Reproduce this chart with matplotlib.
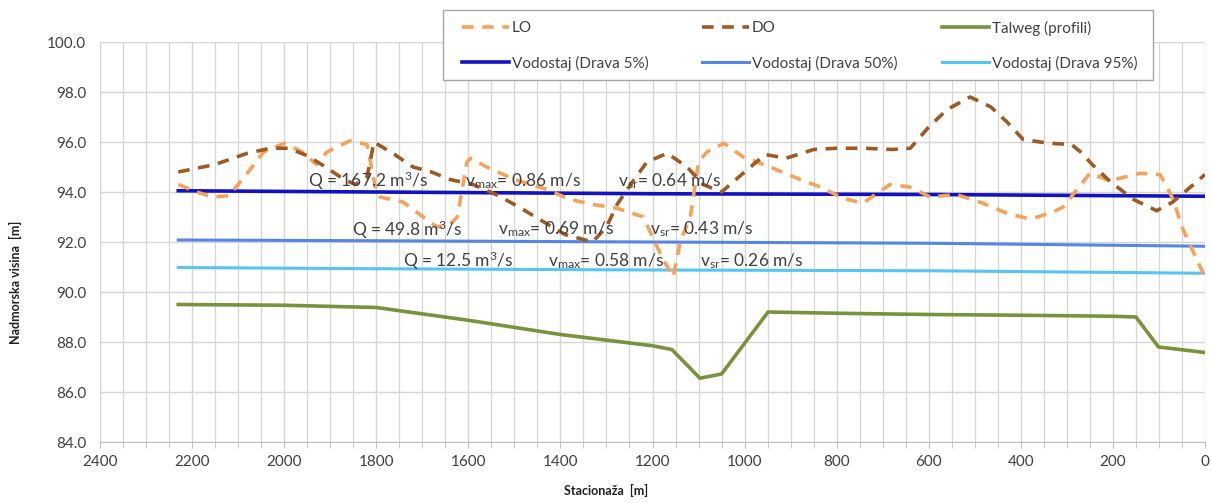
import matplotlib
matplotlib.use("Agg")
import matplotlib.pyplot as plt
from matplotlib.patches import Rectangle
from matplotlib.ticker import MultipleLocator, FormatStrFormatter

plt.rcParams['font.family'] = ['Lato', 'DejaVu Sans']
plt.rcParams['mathtext.fontset'] = 'custom'
plt.rcParams['mathtext.rm'] = 'Lato'
plt.rcParams['mathtext.it'] = 'Lato'

# Left bank (LO) crest
lo_st = [2230, 2190, 2155, 2120, 2080, 2045, 2000, 1960, 1930, 1907, 1857, 1820,
         1800, 1792, 1742, 1698, 1668, 1640, 1624, 1603, 1595, 1560, 1500, 1429,
         1379, 1329, 1277, 1220, 1177, 1155, 1140, 1118, 1100, 1082, 1045, 1003,
         988, 938, 886, 836, 786, 743, 712, 684, 641, 597, 540, 482, 430, 387,
         373, 330, 308, 278, 250, 206, 141, 98, 87, 69, 50, 28, 0]
lo_h = [94.3, 94.0, 93.8, 93.85, 94.75, 95.6, 95.95, 95.6, 95.1, 95.6, 96.05, 95.9,
        94.0, 93.8, 93.6, 93.0, 92.6, 92.7, 93.0, 95.2, 95.35, 95.0, 94.5, 94.1,
        93.7, 93.5, 93.35, 93.0, 91.3, 90.6, 92.0, 93.0, 95.2, 95.6, 95.95, 95.4,
        95.3, 94.95, 94.55, 94.2, 93.75, 93.55, 93.95, 94.3, 94.2, 93.8, 93.9, 93.55, 93.15, 92.95,
        92.95, 93.2, 93.4, 94.1, 94.75, 94.45, 94.75, 94.7, 94.35, 93.7, 92.6, 91.7, 90.6]

# Right bank (DO) crest
do_st = [2230, 2150, 2080, 2030, 1990, 1950, 1910, 1870, 1845, 1820, 1805, 1760,
         1720, 1680, 1640, 1590, 1540, 1490, 1445, 1390, 1330, 1300, 1277, 1240,
         1212, 1168, 1125, 1090, 1050, 1000, 955, 910, 850, 800, 740, 680, 640,
         600, 560, 510, 465, 430, 395, 340, 290, 270, 245, 205, 155, 105, 70, 25, 0]
do_h = [94.8, 95.1, 95.55, 95.75, 95.75, 95.45, 95.0, 94.5, 94.3, 94.6, 96.0, 95.5,
        95.0, 94.8, 94.5, 94.3, 93.9, 93.4, 92.9, 92.3, 92.0, 92.6, 93.5, 94.5,
        95.2, 95.55, 95.0, 94.3, 94.0, 94.8, 95.5, 95.35, 95.7, 95.75, 95.75, 95.7, 95.75,
        96.6, 97.3, 97.8, 97.4, 96.8, 96.1, 95.95, 95.9, 95.6, 95.1, 94.4, 93.7, 93.25, 93.6, 94.3, 94.7]

# Thalweg along the surveyed profiles
tw_st = [2230, 2000, 1800, 1600, 1400, 1200, 1158, 1097, 1050, 949, 800, 600, 400, 200, 150, 101, 0]
tw_h = [89.5, 89.47, 89.38, 88.87, 88.3, 87.85, 87.7, 86.55, 86.72, 89.2, 89.15, 89.1, 89.07, 89.03, 89.0, 87.8, 87.58]

# Water levels for the Drava discharges
wl_st = [2230, 1800, 1200, 600, 0]
wl_5 = [94.05, 94.0, 93.93, 93.9, 93.83]
wl_50 = [92.08, 92.05, 92.0, 91.95, 91.83]
wl_95 = [90.98, 90.93, 90.88, 90.85, 90.75]

# Flow annotations: station, elevation, text
notes_st = [1948, 1607, 1275, 1853, 1536, 1205, 1742, 1427, 1097]
notes_h = [94.45, 94.45, 94.45, 92.5, 92.5, 92.5, 91.25, 91.25, 91.25]
notes_txt = [r'Q = 167.2 m$^3$/s', r'v$_{max}$= 0.86 m/s', r'v$_{sr}$= 0.64 m/s',
             r'Q = 49.8 m$^3$/s', r'v$_{max}$= 0.69 m/s', r'v$_{sr}$= 0.43 m/s',
             r'Q = 12.5 m$^3$/s', r'v$_{max}$= 0.58 m/s', r'v$_{sr}$= 0.26 m/s']

W, H = 1211, 503
fig = plt.figure(figsize=(W / 100, H / 100), dpi=100)
ax = fig.add_axes([100 / W, 1 - 442 / H, 1105 / W, 400 / H])

dash = (0, (3.2, 2.4))
l_lo, = ax.plot(lo_st, lo_h, color='#F5A25A', lw=2.6, ls=dash, dash_capstyle='butt', label='LO', zorder=4)
l_do, = ax.plot(do_st, do_h, color='#9E5A22', lw=2.6, ls=dash, dash_capstyle='butt', label='DO', zorder=4)
l_tw, = ax.plot(tw_st, tw_h, color='#77933C', lw=2.6, label='Talweg (profili)', zorder=3)
l_5, = ax.plot(wl_st, wl_5, color='#1212C0', lw=2.6, label='Vodostaj (Drava 5%)', zorder=3)
l_50, = ax.plot(wl_st, wl_50, color='#5585E5', lw=2.2, label='Vodostaj (Drava 50%)', zorder=3)
l_95, = ax.plot(wl_st, wl_95, color='#56C5F5', lw=2.2, label='Vodostaj (Drava 95%)', zorder=3)

for s, h, t in zip(notes_st, notes_h, notes_txt):
    ax.text(s, h, t, fontsize=12.5, color='#404040', ha='left', va='center', zorder=5)

ax.set_xlim(2400, 0)
ax.set_ylim(84, 100)
ax.xaxis.set_major_locator(MultipleLocator(200))
ax.xaxis.set_minor_locator(MultipleLocator(50))
ax.yaxis.set_major_locator(MultipleLocator(2))
ax.yaxis.set_major_formatter(FormatStrFormatter('%.1f'))
ax.grid(which='major', color='#D6D6D6', lw=1.0, zorder=0)
ax.grid(which='minor', axis='x', color='#D6D6D6', lw=0.9, zorder=0)
ax.set_axisbelow(True)
for sp in ['top', 'right', 'left']:
    ax.spines[sp].set_visible(False)
ax.spines['bottom'].set_color('#BFBFBF')
ax.tick_params(axis='x', which='both', direction='out', length=4, color='#BFBFBF',
               labelsize=11, labelcolor='#404040', pad=5)
ax.tick_params(axis='y', which='both', length=0, labelsize=11, labelcolor='#404040', pad=10)

ax.set_xlabel('Stacionaža  [m]', fontsize=9, fontweight='bold', color='#202020')
ax.xaxis.set_label_coords((606 - 100) / 1105, (442 - 484) / 400)
ax.set_ylabel('Nadmorska visina  [m]', fontsize=9, fontweight='bold', color='#202020')
ax.yaxis.set_label_coords((22 - 100) / 1105, (442 - 282) / 400)

# Legend: frame plus one entry per slot, three columns in two rows
fig.patches.append(Rectangle((443 / W, 1 - 80 / H), 710 / W, 70 / H, transform=fig.transFigure,
                             facecolor='white', edgecolor='#A6A6A6', lw=1.0, zorder=10))
slots = [(l_lo, 462, 28), (l_do, 702, 28), (l_tw, 942, 28),
         (l_5, 462, 63), (l_50, 702, 63), (l_95, 942, 63)]
for handle, px, py in slots:
    lg = fig.legend(handles=[handle], labels=[handle.get_label()], loc='center left',
                    bbox_to_anchor=(px / W, 1 - py / H), frameon=False, fontsize=11,
                    handlelength=3.1, handletextpad=0.15, borderpad=0, borderaxespad=0)
    lg.set_zorder(11)
    for t in lg.get_texts():
        t.set_color('#404040')

fig.savefig('out.png', dpi=100, facecolor='white')
